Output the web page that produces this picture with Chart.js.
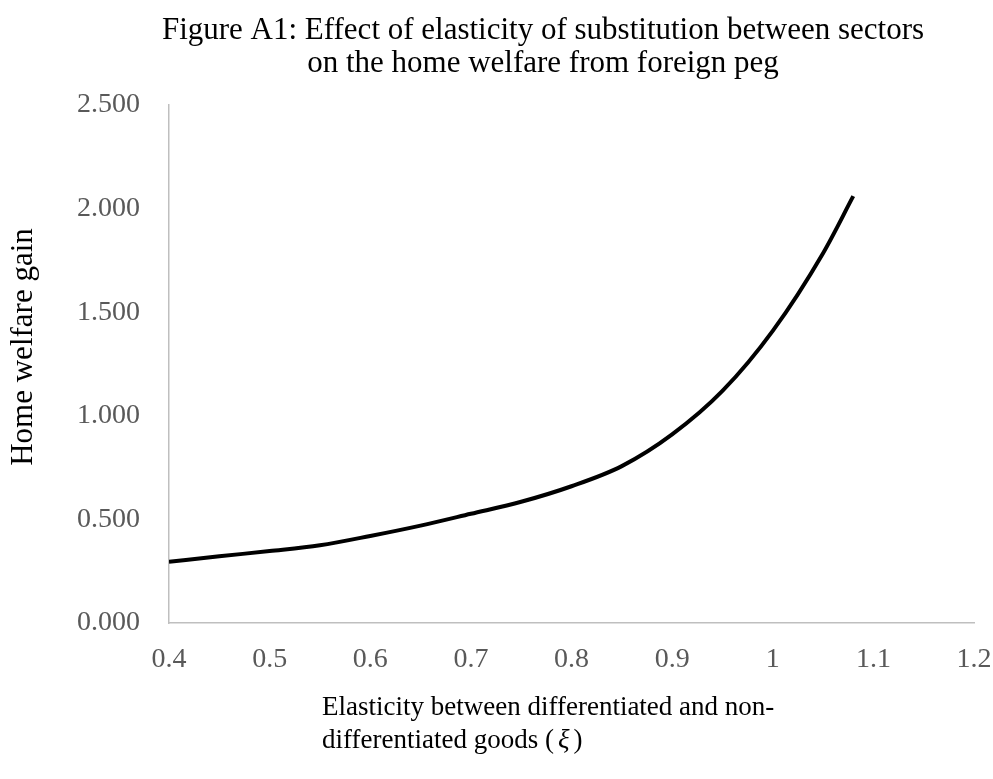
<!DOCTYPE html>
<html>
<head>
<meta charset="utf-8">
<script src="https://cdn.jsdelivr.net/npm/chart.js@4.4.0/dist/chart.umd.min.js"></script>
<style>
  html, body { margin: 0; padding: 0; background: #fff; }
  #wrap { width: 993px; height: 779px; }
</style>
</head>
<body>
<div id="wrap"><canvas id="chart" width="993" height="779"></canvas></div>
<script>
// Elasticity values (x) and home welfare gain (y)
var elasticity = [0.40, 0.45, 0.50, 0.55, 0.60, 0.65, 0.70, 0.75, 0.80, 0.85, 0.90, 0.95, 1.00, 1.05, 1.08];
var welfareGain = [0.295, 0.322, 0.347, 0.375, 0.420, 0.470, 0.527, 0.585, 0.660, 0.757, 0.910, 1.120, 1.410, 1.785, 2.060];

var titleLines = ['Figure A1: Effect of elasticity of substitution between sectors',
                  'on the home welfare from foreign peg'];
var yTitle = 'Home welfare gain';
var xTitleLine1 = 'Elasticity between differentiated and non-';
var xTitleLine2 = ['differentiated goods (', 'ξ', ')'];

var serif = "'Liberation Serif', 'Times New Roman', serif";

var points = elasticity.map(function (x, i) { return { x: x, y: welfareGain[i] }; });

// draws title and axis titles where the original figure has them
var textPlugin = {
    id: 'figureText',
    afterDraw: function (chart) {
        var c = chart.ctx;
        c.save();
        c.fillStyle = '#000';
        c.textBaseline = 'middle';

        c.font = '31px ' + serif;
        c.textAlign = 'center';
        c.fillText(titleLines[0], 543, 31);
        c.fillText(titleLines[1], 543, 64);

        // x axis title, left aligned block
        c.font = '27px ' + serif;
        c.textAlign = 'left';
        c.fillText(xTitleLine1, 322, 708);
        var x = 322;
        c.fillText(xTitleLine2[0], x, 741);
        x += c.measureText(xTitleLine2[0]).width + 4;
        c.font = 'italic 27px ' + serif;
        c.fillText(xTitleLine2[1], x, 741);
        x += c.measureText(xTitleLine2[1]).width + 4;
        c.font = '27px ' + serif;
        c.fillText(xTitleLine2[2], x, 741);

        // y axis title
        c.font = '31px ' + serif;
        c.translate(24, 347);
        c.rotate(-Math.PI / 2);
        c.textAlign = 'center';
        c.fillText(yTitle, 0, 0);
        c.restore();
    }
};

var ctx = document.getElementById('chart').getContext('2d');

var myChart = new Chart(ctx, {
    type: 'scatter',
    data: {
        datasets: [{
            data: points,
            showLine: true,
            borderColor: '#000',
            borderWidth: 4,
            pointRadius: 0,
            fill: false,
            cubicInterpolationMode: 'monotone'
        }]
    },
    options: {
        responsive: false,
        animation: false,
        layout: { padding: { left: 0, right: 19, top: 105, bottom: 96 } },
        plugins: {
            legend: { display: false },
            tooltip: { enabled: false },
            title: { display: false }
        },
        scales: {
            x: {
                type: 'linear',
                min: 0.4,
                max: 1.2,
                afterFit: function (s) {
                    s.height = 60;
                    s.paddingLeft = 0;
                    s.paddingRight = 0;
                },
                ticks: {
                    stepSize: 0.1,
                    color: '#595959',
                    font: { family: serif, size: 28 },
                    padding: 20,
                    callback: function (v) { return String(Number(v.toFixed(1))); }
                },
                grid: { display: false, drawTicks: false },
                border: { display: true, color: '#bfbfbf', width: 1.5 }
            },
            y: {
                min: 0,
                max: 2.5,
                afterFit: function (s) {
                    s.width = 169;
                    s.paddingTop = 0;
                    s.paddingBottom = 0;
                },
                ticks: {
                    stepSize: 0.5,
                    color: '#595959',
                    font: { family: serif, size: 28 },
                    padding: 29,
                    callback: function (v) { return v.toFixed(3); }
                },
                grid: { display: false, drawTicks: false },
                border: { display: true, color: '#bfbfbf', width: 1.5 }
            }
        }
    },
    plugins: [textPlugin]
});
</script>
</body>
</html>
